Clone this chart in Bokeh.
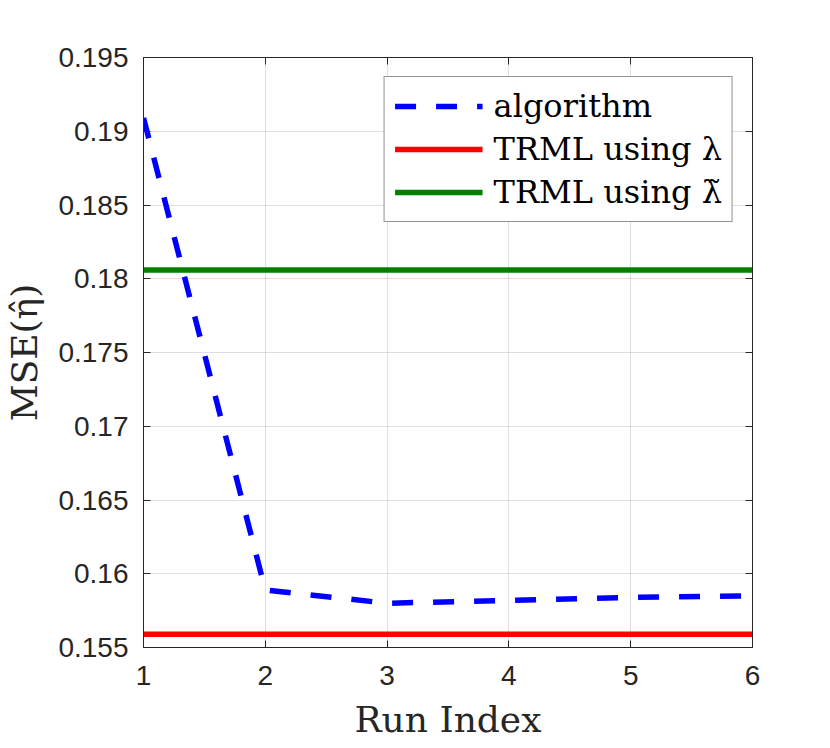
from bokeh.plotting import figure
from bokeh.models import (Range1d, LinearAxis, FixedTicker, Legend, LegendItem)
from bokeh.embed import file_html
from bokeh.resources import INLINE

run_index = [1, 2, 3, 4, 5, 6]
algorithm = [0.1909, 0.1589, 0.1580, 0.1582, 0.1584, 0.1585]
trml_lambda = [0.1559] * 6
trml_lambda_tilde = [0.1806] * 6

x_ticks = [1, 2, 3, 4, 5, 6]
y_ticks = [0.155, 0.16, 0.165, 0.17, 0.175, 0.18, 0.185, 0.19, 0.195]
y_labels = ["0.155", "0.16", "0.165", "0.17", "0.175", "0.18", "0.185", "0.19", "0.195"]

AX = "#262626"
TICK_FONT = "Liberation Sans"
SERIF = "DejaVu Serif"

p = figure(frame_width=609, frame_height=590,
           x_range=Range1d(1, 6), y_range=Range1d(0.155, 0.195),
           output_backend="svg", toolbar_location=None,
           min_border_left=143, min_border_right=62,
           min_border_top=57, min_border_bottom=96,
           background_fill_color="white", border_fill_color="white")
p.outline_line_color = AX
p.outline_line_width = 1

for ax in (p.xaxis[0], p.yaxis[0]):
    ax.axis_line_color = AX
    ax.major_tick_line_color = AX
    ax.major_tick_in = 7
    ax.major_tick_out = 0
    ax.minor_tick_line_color = None
    ax.major_label_text_font = TICK_FONT
    ax.major_label_text_font_size = "28px"
    ax.major_label_text_color = AX
    ax.axis_label_text_font = SERIF
    ax.axis_label_text_font_style = "normal"
    ax.axis_label_text_color = AX
    ax.axis_label_text_font_size = "36px"

p.xaxis[0].ticker = FixedTicker(ticks=x_ticks)
p.yaxis[0].ticker = FixedTicker(ticks=y_ticks)
p.yaxis[0].major_label_overrides = {t: l for t, l in zip(y_ticks, y_labels)}
p.xaxis[0].axis_label = "Run Index"
p.yaxis[0].axis_label = "MSE(\u03b7\u0302)"
p.xaxis[0].major_label_standoff = 18
p.yaxis[0].major_label_standoff = 15
p.xaxis[0].axis_label_standoff = 11
p.yaxis[0].axis_label_standoff = 10

for loc, ticks in (("above", x_ticks), ("right", y_ticks)):
    a = LinearAxis(ticker=FixedTicker(ticks=ticks))
    a.major_label_text_color = None
    a.major_label_text_font_size = "1px"
    a.major_label_standoff = 0
    a.axis_line_color = AX
    a.major_tick_line_color = AX
    a.major_tick_in = 7
    a.major_tick_out = 0
    a.minor_tick_line_color = None
    p.add_layout(a, loc)

p.xgrid.ticker = FixedTicker(ticks=x_ticks)
p.ygrid.ticker = FixedTicker(ticks=y_ticks)
p.grid.grid_line_color = "#262626"
p.grid.grid_line_alpha = 0.15
p.grid.grid_line_width = 1

r_green = p.line(run_index, trml_lambda_tilde, line_color="#008000", line_width=5.5)
r_red = p.line(run_index, trml_lambda, line_color="#ff0000", line_width=5.5)
r_blue = p.line(run_index, algorithm, line_color="#0000ff", line_width=5.5,
                line_dash="21 20")

legend = Legend(items=[
    LegendItem(label="algorithm", renderers=[r_blue]),
    LegendItem(label="TRML using \u03bb", renderers=[r_red]),
    LegendItem(label="TRML using \u03bb\u0303", renderers=[r_green]),
], location="top_right")
legend.label_text_font = SERIF
legend.label_text_font_size = "32px"
legend.label_text_color = "black"
legend.glyph_width = 88
legend.glyph_height = 36
legend.label_height = 36
legend.spacing = 5
legend.padding = 10
legend.margin = 19
legend.label_standoff = 11
legend.border_line_color = AX
legend.border_line_width = 1
legend.background_fill_color = "white"
legend.background_fill_alpha = 1
p.add_layout(legend)

open("out.html", "w").write(file_html(p, INLINE))
